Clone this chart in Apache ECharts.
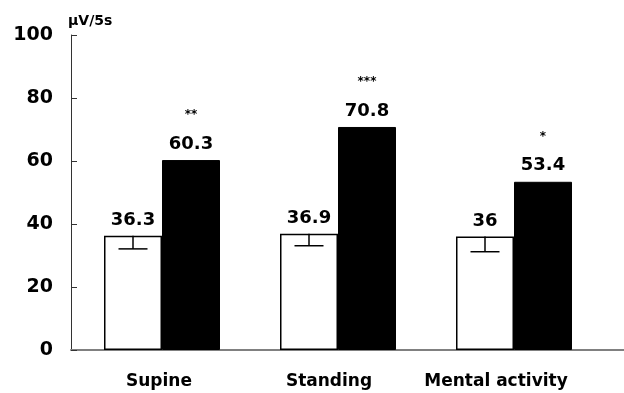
<!DOCTYPE html>
<html>
<head>
<meta charset="utf-8">
<script src="https://cdn.jsdelivr.net/npm/echarts@6/dist/echarts.min.js"></script>
<style>html,body{margin:0;padding:0;background:#fff}#c{width:624px;height:393px}</style>
</head>
<body>
<div id="c"></div>
<script>
var categories = ['Supine', 'Standing', 'Mental activity'];
var controlValues = [36.3, 36.9, 36];
var controlErrors = [4.2, 3.8, 4.8];
var testValues = [60.3, 70.8, 53.4];
var significance = ['**', '***', '*'];
var yTicks = [0, 20, 40, 60, 80, 100];
var unitLabel = 'µV/5s';

var FONT = 'DejaVu Sans';
var labelShift = [6, 18, 36];

var chart = echarts.init(document.getElementById('c'), null, {renderer: 'canvas'});
chart.setOption({
  animation: false,
  backgroundColor: '#fff',
  grid: [
    {left: 74, width: 528, top: 35, bottom: 43},
    {left: 71, right: 0, top: 35, bottom: 43}
  ],
  xAxis: [
    {
      type: 'category', gridIndex: 0,
      data: categories.map(function (c, i) {
        return {value: c, textStyle: {padding: [0, labelShift[i], 0, 0]}};
      }),
      axisLine: {show: false}, axisTick: {show: false},
      axisLabel: {interval: 0, margin: 23, color: '#000', fontFamily: FONT, fontWeight: 'bold', fontSize: 17}
    },
    {
      type: 'category', gridIndex: 1, data: categories,
      axisLine: {show: true, lineStyle: {color: '#808080', width: 2}},
      axisTick: {show: false}, axisLabel: {show: false}
    }
  ],
  yAxis: [
    {
      type: 'value', gridIndex: 0, min: yTicks[0], max: yTicks[yTicks.length - 1], interval: 20,
      offset: 3,
      name: unitLabel, nameLocation: 'end', nameGap: 7,
      nameTextStyle: {color: '#000', fontFamily: FONT, fontWeight: 'bold', fontSize: 14, align: 'left', padding: [0, 0, 0, -3]},
      axisLine: {show: true, lineStyle: {color: '#333', width: 1}},
      axisTick: {show: true, inside: true, length: 6, lineStyle: {color: '#333'}},
      splitLine: {show: false},
      axisLabel: {margin: 18, color: '#000', fontFamily: FONT, fontWeight: 'bold', fontSize: 19}
    },
    {type: 'value', gridIndex: 1, min: 0, max: 100, show: false}
  ],
  series: [
    {
      type: 'bar', xAxisIndex: 0, yAxisIndex: 0,
      data: controlValues, barWidth: 58, barGap: '0%',
      itemStyle: {color: '#fff', borderColor: '#000', borderWidth: 1.5},
      label: {show: true, position: 'top', distance: 6, color: '#000', fontFamily: FONT, fontWeight: 'bold', fontSize: 18},
      z: 2
    },
    {
      type: 'bar', xAxisIndex: 0, yAxisIndex: 0,
      data: testValues, barWidth: 58, barGap: '0%',
      itemStyle: {color: '#000', borderColor: '#000', borderWidth: 1},
      label: {
        show: true, position: 'top', distance: 6,
        formatter: function (p) { return '{s|' + significance[p.dataIndex] + '}\n{v|' + p.value + '}'; },
        rich: {
          s: {fontFamily: FONT, fontWeight: 'bold', fontSize: 12, color: '#000', lineHeight: 38},
          v: {fontFamily: FONT, fontWeight: 'bold', fontSize: 18, color: '#000', lineHeight: 20}
        }
      },
      z: 2
    },
    {
      type: 'custom', xAxisIndex: 0, yAxisIndex: 0,
      data: controlValues.map(function (v, i) { return [i, v, v - controlErrors[i]]; }),
      renderItem: function (params, api) {
        var top = api.coord([api.value(0), api.value(1)]);
        var bot = api.coord([api.value(0), api.value(2)]);
        var x = top[0] - 29;
        var hw = 14.5;
        return {
          type: 'group',
          children: [
            {type: 'line', shape: {x1: x, y1: top[1], x2: x, y2: bot[1]}, style: {stroke: '#000', lineWidth: 1.5}},
            {type: 'line', shape: {x1: x - hw, y1: bot[1], x2: x + hw, y2: bot[1]}, style: {stroke: '#000', lineWidth: 1.5}}
          ]
        };
      },
      z: 5
    }
  ]
});
</script>
</body>
</html>
